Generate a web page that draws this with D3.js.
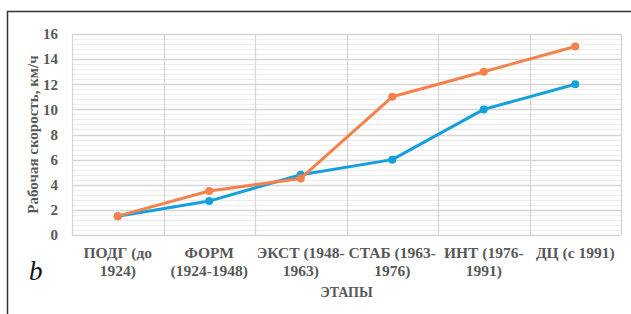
<!DOCTYPE html>
<html>
<head>
<meta charset="utf-8">
<script src="https://d3js.org/d3.v7.min.js"></script>
<style>
  body { margin: 0; background: #fff; }
</style>
</head>
<body>
<script>
	var width = 631;
	var height = 314;
	var margin = {top: 34, right: 10, bottom: 79, left: 72};

	// data
	var stages = ["ПОДГ (до|1924)", "ФОРМ|(1924-1948)", "ЭКСТ (1948-|1963)", "СТАБ (1963-|1976)", "ИНТ (1976-|1991)", "ДЦ (с 1991)"];
	var blueValues = [1.5, 2.7, 4.8, 6, 10, 12];
	var orangeValues = [1.5, 3.5, 4.5, 11, 13, 15];
	var yTicks = [0, 2, 4, 6, 8, 10, 12, 14, 16];

	var svg = d3.select("body")
		.append("svg")
		.attr("width", width)
		.attr("height", height)
		.style("font-family", "'Liberation Serif', 'Times New Roman', serif")

	// outer frame
	svg.append("path")
		.attr("d", "M7.5," + height + " V11.5 H" + width)
		.attr("fill", "none")
		.attr("stroke", "#333")
		.attr("stroke-width", 1.5)

	var xScale = d3.scaleBand()
		.domain(stages)
		.range([margin.left, width - margin.right])
	var yScale = d3.scaleLinear()
		.domain([0, 16])
		.range([height - margin.bottom, margin.top])

	// minor gridlines
	var minor = d3.range(0, 16.01, 0.4).filter(function(v) { return Math.abs(v / 2 - Math.round(v / 2)) > 0.01; });
	svg.append("g").selectAll("line")
		.data(minor)
		.enter()
		.append("line")
		.attr("x1", margin.left)
		.attr("x2", width - margin.right)
		.attr("y1", d => Math.round(yScale(d)) + 0.5)
		.attr("y2", d => Math.round(yScale(d)) + 0.5)
		.attr("stroke", "#ececec")

	// major gridlines
	svg.append("g").selectAll("line")
		.data(yTicks)
		.enter()
		.append("line")
		.attr("x1", margin.left)
		.attr("x2", width - margin.right)
		.attr("y1", d => Math.round(yScale(d)) + 0.5)
		.attr("y2", d => Math.round(yScale(d)) + 0.5)
		.attr("stroke", "#d6d6d6")
		.attr("stroke-width", 1.3)

	// vertical gridlines at category boundaries
	var bounds = stages.map(d => xScale(d)).concat([width - margin.right]);
	svg.append("g").selectAll("line")
		.data(bounds)
		.enter()
		.append("line")
		.attr("x1", d => Math.round(d) + 0.5)
		.attr("x2", d => Math.round(d) + 0.5)
		.attr("y1", margin.top)
		.attr("y2", height - margin.bottom)
		.attr("stroke", "#d6d6d6")
		.attr("stroke-width", 1.3)

	// y axis labels
	svg.append("g").selectAll("text")
		.data(yTicks)
		.enter()
		.append("text")
		.attr("x", 58)
		.attr("y", d => yScale(d))
		.attr("dy", "0.35em")
		.attr("text-anchor", "end")
		.attr("font-size", 15)
		.attr("font-weight", "bold")
		.attr("fill", "#595959")
		.text(d => d)

	// x category labels
	var xl = svg.append("g").selectAll("text")
		.data(stages)
		.enter()
		.append("text")
		.attr("text-anchor", "middle")
		.attr("font-size", 15.5)
		.attr("font-weight", "bold")
		.attr("fill", "#595959")
	xl.each(function(d) {
		var lines = d.split("|");
		var t = d3.select(this);
		lines.forEach(function(s, i) {
			t.append("tspan")
				.attr("x", xScale(d) + xScale.bandwidth() / 2)
				.attr("y", 258 + i * 18)
				.text(s);
		});
	});

	// axis titles
	svg.append("text")
		.attr("x", (margin.left + width - margin.right) / 2)
		.attr("y", 297)
		.attr("text-anchor", "middle")
		.attr("font-size", 14)
		.attr("font-weight", "bold")
		.attr("fill", "#595959")
		.text("ЭТАПЫ")

	svg.append("text")
		.attr("transform", "translate(38," + ((margin.top + height - margin.bottom) / 2) + ") rotate(-90)")
		.attr("text-anchor", "middle")
		.attr("font-size", 15)
		.attr("font-weight", "bold")
		.attr("fill", "#595959")
		.text("Рабочая скорость, км/ч")

	// panel letter
	svg.append("text")
		.attr("x", 29)
		.attr("y", 280)
		.attr("font-size", 27)
		.attr("font-style", "italic")
		.attr("fill", "#111")
		.text("b")

	// series
	var cx = d => xScale(d) + xScale.bandwidth() / 2;
	var series = [
		{values: blueValues, color: "#14a0dc"},
		{values: orangeValues, color: "#f4814a"}
	];
	series.forEach(function(s) {
		var pts = stages.map((c, i) => [cx(c), yScale(s.values[i])]);
		svg.append("path")
			.attr("d", d3.line()(pts))
			.attr("fill", "none")
			.attr("stroke", s.color)
			.attr("stroke-width", 3)
			.attr("stroke-linejoin", "round")
		svg.append("g").selectAll("circle")
			.data(pts)
			.enter()
			.append("circle")
			.attr("cx", d => d[0])
			.attr("cy", d => d[1])
			.attr("r", 4)
			.attr("fill", s.color)
	});
</script>
</body>
</html>
